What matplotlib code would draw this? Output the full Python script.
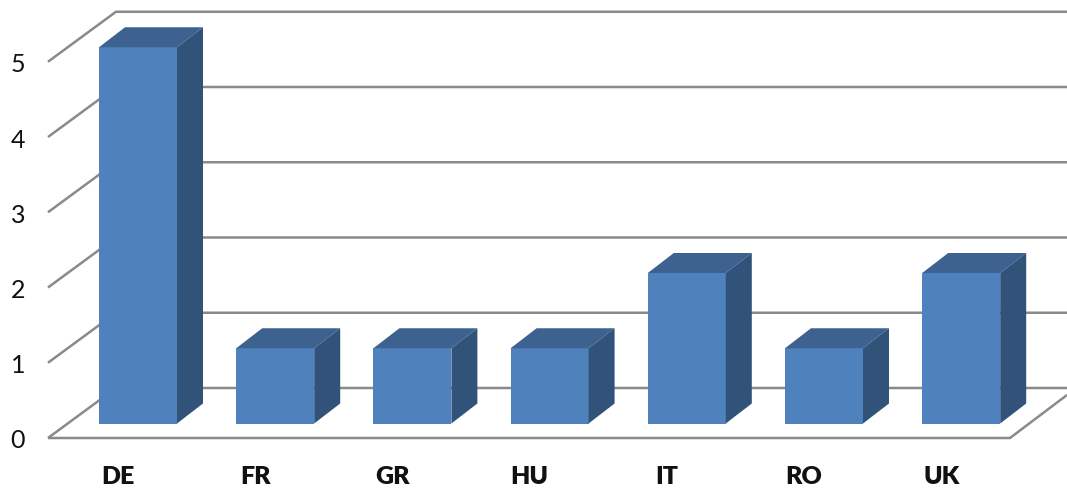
import matplotlib
matplotlib.use('Agg')
import matplotlib.pyplot as plt
import numpy as np

plt.rcParams['font.family'] = ['Lato', 'DejaVu Sans']

countries = ['DE', 'FR', 'GR', 'HU', 'IT', 'RO', 'UK']
counts = [5, 1, 1, 1, 2, 1, 2]
y_ticks = [0, 1, 2, 3, 4, 5]

FIG_W, FIG_H = 1067, 493
X0_PX, X_STEP = 138.0, 137.2   # first bar centre, px per category
Y0_PX, Y_STEP = 423.5, 75.25   # zero level of the bars, px per unit

GRID = '#8a8a8a'
FRONT = '#4f81bd'
TOP = '#3d6290'
SIDE = '#325379'


def px_x(p):
    return p / X_STEP


def px_y(p):
    return p / Y_STEP


fig = plt.figure(figsize=(FIG_W / 100, FIG_H / 100), dpi=100)
ax = fig.add_axes([0, 0, 1, 1])
ax.set_xlim(-X0_PX / X_STEP, (FIG_W - X0_PX) / X_STEP)
ax.set_ylim((Y0_PX - FIG_H) / Y_STEP, Y0_PX / Y_STEP)
ax.axis('off')

x = np.arange(len(countries))
bar_w = px_x(78)
dep_x, dep_y = px_x(26), px_y(20)

# walls and floor of the fake 3d box
wall_front_x = px_x(48 - X0_PX)
wall_back_x = px_x(116 - X0_PX)
floor_front = px_y(Y0_PX - 438)
floor_back = px_y(Y0_PX - 388)
floor_right_x = px_x(1010 - X0_PX)
right_end_x = px_x(1067 - X0_PX)

line_kw = dict(color=GRID, lw=1.8, solid_capstyle='butt', solid_joinstyle='miter', zorder=1)
for v in y_ticks:
    ax.plot([wall_front_x, wall_back_x, right_end_x],
            [floor_front + v, floor_back + v, floor_back + v], **line_kw)
    ax.text(px_x(18 - X0_PX), floor_front + v - px_y(3), str(v), fontsize=18, color='#111111',
            ha='center', va='center')

ax.plot([wall_front_x, floor_right_x, right_end_x],
        [floor_front, floor_front, floor_front + px_y(43)], **line_kw)

# front faces, then top and side of each block
ax.bar(x, counts, width=bar_w, color=FRONT, edgecolor='none', zorder=3)
for xi, v in zip(x, counts):
    left, right = xi - bar_w / 2, xi + bar_w / 2
    ax.fill([left, right, right + dep_x, left + dep_x],
            [v, v, v + dep_y, v + dep_y], color=TOP, lw=0, zorder=3)
    ax.fill([right, right + dep_x, right + dep_x, right],
            [0, dep_y, v + dep_y, v], color=SIDE, lw=0, zorder=3)

for xi, name in zip(x, countries):
    ax.text(xi - px_x(20), px_y(Y0_PX - 477), name, fontsize=18, fontweight='heavy',
            color='#111111', ha='center', va='center')

fig.savefig('out.png', dpi=100)
